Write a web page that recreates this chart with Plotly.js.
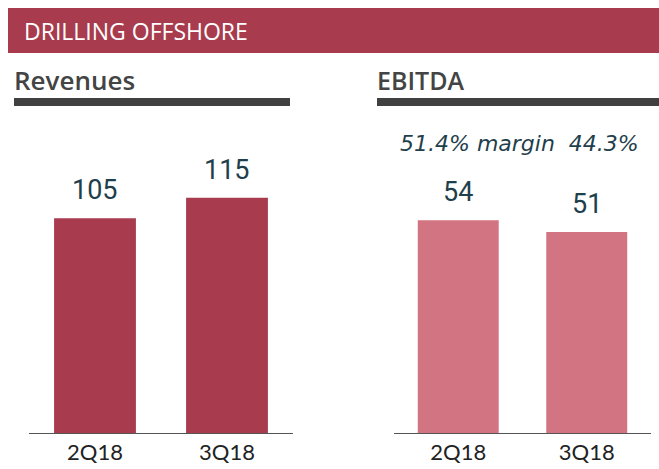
<!DOCTYPE html>
<html>
<head>
<meta charset="utf-8">
<script src="https://cdn.plot.ly/plotly-3.0.1.min.js"></script>
<style>html,body{margin:0;padding:0;background:#fff;}#chart{width:659px;height:469px;}</style>
</head>
<body>
<div id="chart"></div>
<script>
const quarters = ["2Q18", "3Q18"];
const revenues = [105, 115];
const ebitda = [54, 51];
const margins = ["51.4%", "44.3%"];

const W = 659, H = 469;
const px = v => v / W;
const py = v => (H - v) / H; // from top pixel to paper fraction

const darkRed = "#A83B4E";
const pink = "#D27482";
const numColor = "#1F3F4C";

const traces = [
  {type: "bar", x: quarters, y: revenues, xaxis: "x", yaxis: "y",
   marker: {color: darkRed}, width: 0.62, hoverinfo: "none"},
  {type: "bar", x: quarters, y: ebitda, xaxis: "x2", yaxis: "y2",
   marker: {color: pink}, width: 0.63, hoverinfo: "none"}
];

const numFont = {family: "Roboto", size: 27, color: numColor};
const annotations = [];
quarters.forEach((q, i) => {
  annotations.push({x: q, y: revenues[i], xref: "x", yref: "y", text: String(revenues[i]),
    showarrow: false, yanchor: "bottom", yshift: 10, font: numFont});
  annotations.push({x: q, y: ebitda[i], xref: "x2", yref: "y2", text: String(ebitda[i]),
    showarrow: false, yanchor: "bottom", yshift: 10, font: numFont});
});
annotations.push({x: px(22), y: py(31), xref: "paper", yref: "paper", xanchor: "left", yanchor: "middle",
  text: "DRILLING OFFSHORE", showarrow: false, font: {family: "Open Sans", size: 23, color: "#ffffff", weight: 500}});
annotations.push({x: px(12), y: py(80), xref: "paper", yref: "paper", xanchor: "left", yanchor: "middle",
  text: "Revenues", showarrow: false, font: {family: "Open Sans", size: 26, color: "#444444", weight: 600}});
annotations.push({x: px(375), y: py(80), xref: "paper", yref: "paper", xanchor: "left", yanchor: "middle",
  text: "EBITDA", showarrow: false, font: {family: "Open Sans", size: 25, color: "#444444", weight: 600}});
annotations.push({x: px(519), y: py(143), xref: "paper", yref: "paper", xanchor: "center", yanchor: "middle",
  text: margins[0] + " margin  " + margins[1], showarrow: false,
  font: {family: "DejaVu Sans", size: 22, color: numColor, style: "italic"}});

const shapes = [
  {type: "rect", xref: "paper", yref: "paper", x0: px(8), x1: 1, y0: py(53), y1: py(8),
   fillcolor: darkRed, line: {width: 0}},
  {type: "rect", xref: "paper", yref: "paper", x0: px(14), x1: px(290), y0: py(106), y1: py(98),
   fillcolor: "#404040", line: {width: 0}},
  {type: "rect", xref: "paper", yref: "paper", x0: px(377), x1: 1, y0: py(106), y1: py(98),
   fillcolor: "#404040", line: {width: 0}}
];

const yDom = [36 / H, 369 / H];
const axBase = {showgrid: false, zeroline: false, showticklabels: false, fixedrange: true};
const xBase = {type: "category", range: [-0.5, 1.5], showline: true, linecolor: "#555555", linewidth: 1,
  ticks: "", showgrid: false, zeroline: false, tickfont: {family: "Lato", size: 22, color: "#222222"}, fixedrange: true};

const layout = {
  width: W, height: H,
  margin: {l: 0, r: 0, t: 0, b: 0},
  paper_bgcolor: "#ffffff", plot_bgcolor: "#ffffff",
  showlegend: false,
  xaxis: Object.assign({}, xBase, {domain: [px(29), px(293)], anchor: "y"}),
  yaxis: Object.assign({}, axBase, {domain: yDom, range: [0, 333 / 2.045], anchor: "x"}),
  xaxis2: Object.assign({}, xBase, {domain: [px(394), px(651)], anchor: "y2"}),
  yaxis2: Object.assign({}, axBase, {domain: yDom, range: [0, 333 / 3.94], anchor: "x2"}),
  annotations: annotations,
  shapes: shapes
};

Plotly.newPlot("chart", traces, layout, {staticPlot: true, displayModeBar: false});
</script>
</body>
</html>
